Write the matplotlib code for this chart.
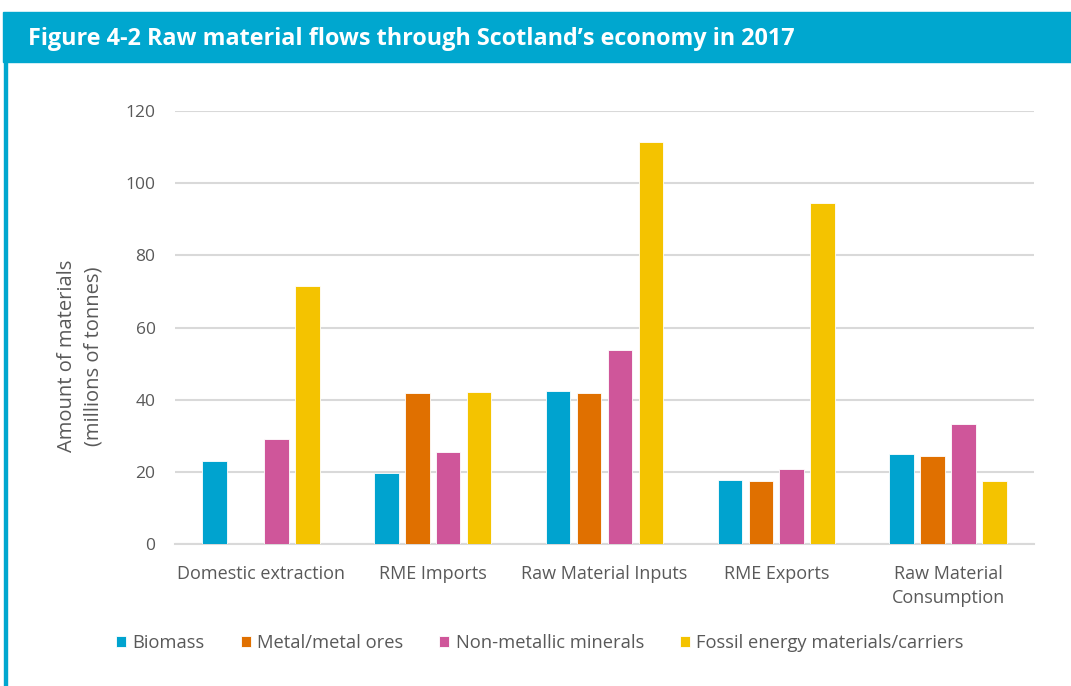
import matplotlib.pyplot as plt
import numpy as np

categories = ['Domestic extraction', 'RME Imports', 'Raw Material Inputs', 'RME Exports', 'Raw Material\nConsumption']
series = ['Biomass', 'Metal/metal ores', 'Non-metallic minerals', 'Fossil energy materials/carriers']
biomass = [23.0, 19.7, 42.4, 17.7, 24.9]
metal = [0.0, 41.8, 41.8, 17.5, 24.3]
nonmetal = [29.1, 25.5, 53.7, 20.9, 33.2]
fossil = [71.5, 42.1, 111.5, 94.5, 17.5]
values = [biomass, metal, nonmetal, fossil]
colors = ['#00A3CF', '#E07000', '#CF569A', '#F4C300']

plt.rcParams['font.family'] = ['Open Sans', 'DejaVu Sans']
grey = '#595959'

fig = plt.figure(figsize=(10.71, 6.86), dpi=100)

# header band and left rule
fig.patches.append(plt.Rectangle((3 / 1071, 1 - 62 / 686), 1, 50 / 686, transform=fig.transFigure,
                                 color='#00A7CF', zorder=0))
fig.patches.append(plt.Rectangle((4 / 1071, 0), 2.5 / 1071, 1 - 62 / 686, transform=fig.transFigure,
                                 color='#00A7CF', zorder=0))
fig.text(28 / 1071, 1 - 39 / 686, 'Figure 4-2 Raw material flows through Scotland\u2019s economy in 2017',
         color='white', fontsize=16.8, fontweight='bold', va='center', ha='left')

ax = fig.add_axes([175 / 1071, 1 - 544 / 686, (1034 - 175) / 1071, (544 - 111) / 686])
x = np.arange(len(categories))
pitch = 0.18
width = 0.143
for i, (vals, name, c) in enumerate(zip(values, series, colors)):
    ax.bar(x + (i - 1.5) * pitch, vals, width, color=c, label=name, zorder=3,
           edgecolor='white', linewidth=0.6)

ax.set_xlim(-0.5, len(categories) - 0.5)
ax.set_ylim(0, 120)
ax.set_yticks(range(0, 121, 20))
ax.yaxis.grid(True, color='#D9D9D9', linewidth=1.5, zorder=0)
ax.set_axisbelow(True)
for s in ['top', 'right', 'left']:
    ax.spines[s].set_visible(False)
ax.spines['bottom'].set_color('#D9D9D9')
ax.spines['bottom'].set_linewidth(1.5)
ax.tick_params(length=0, labelsize=12.5, colors=grey, pad=14)
ax.tick_params(axis='x', pad=15, labelsize=13)
ax.set_xticks(x)
ax.set_xticklabels(categories, linespacing=1.45)

fig.text(80 / 1071, 1 - 356 / 686, 'Amount of materials\n(millions of tonnes)', fontsize=14.5, color=grey,
         rotation=90, ha='center', va='center', linespacing=1.45, multialignment='center')

fig.legend(loc='center', bbox_to_anchor=(540 / 1071, 1 - 643 / 686), ncol=4, frameon=False,
           fontsize=13.2, labelcolor=grey, handlelength=0.55, handleheight=0.55, handletextpad=0.35,
           columnspacing=1.95)

fig.savefig('out.png', dpi=100)
